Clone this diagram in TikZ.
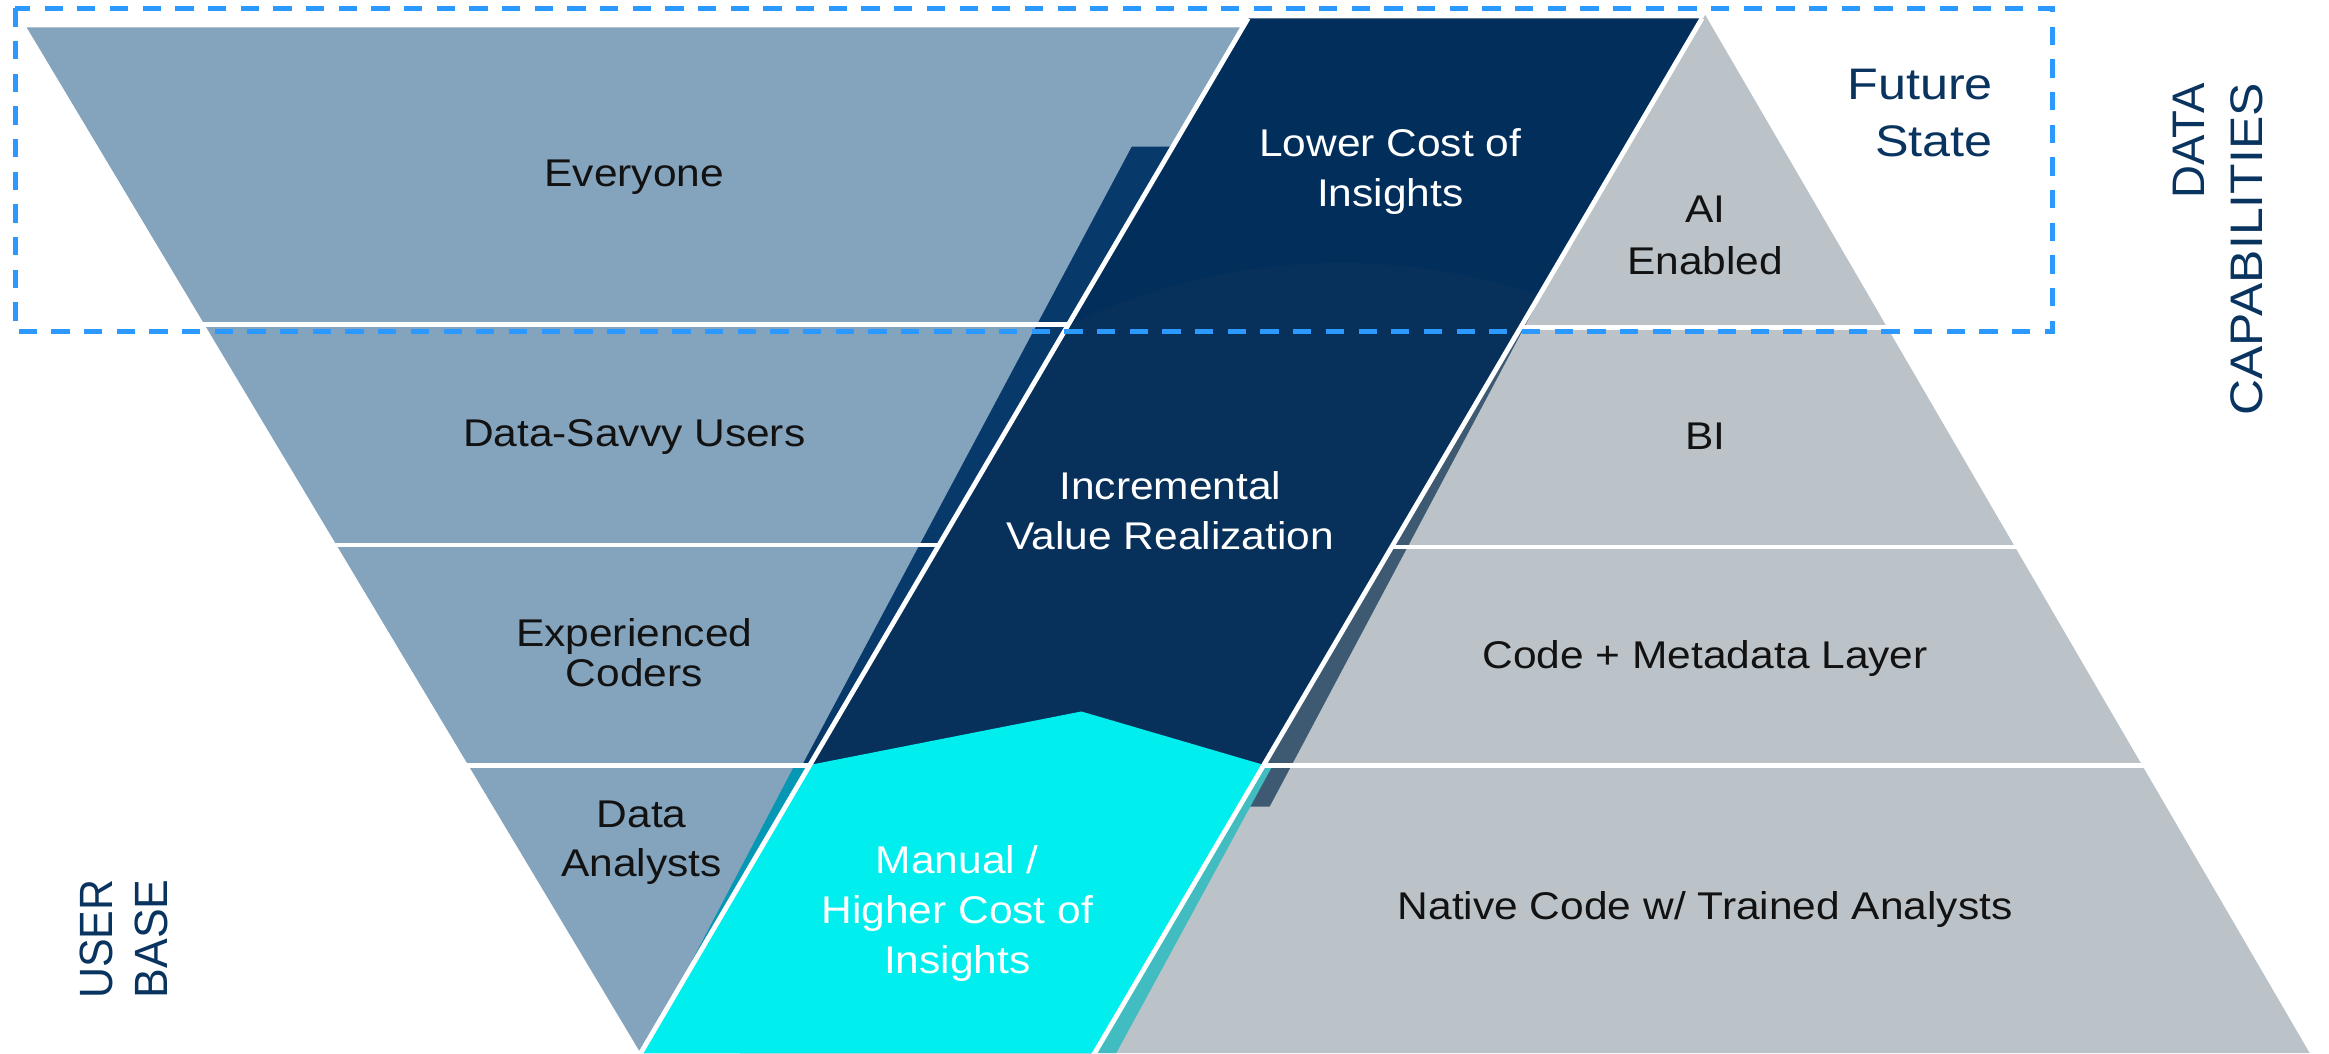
\documentclass[tikz,border=0pt]{standalone}
\usepackage{fontspec}
\setmainfont{Liberation Sans}
\usepackage{graphicx}
\definecolor{bluegray}{HTML}{84A3BD}
\definecolor{capgray}{HTML}{BBC3C8}
\definecolor{navyfill}{HTML}{012E5A}
\definecolor{navylow}{HTML}{07315A}
\definecolor{navyshadow}{HTML}{073A6B}
\definecolor{slateshadow}{HTML}{3E5A73}
\definecolor{cyanfill}{HTML}{00EEEE}
\definecolor{tealleft}{HTML}{0598B4}
\definecolor{tealright}{HTML}{41BCC1}
\definecolor{dashblue}{HTML}{2B99FF}
\definecolor{titlenavy}{HTML}{0A3460}
\newcommand{\hs}[1]{\scalebox{1.1}[1]{#1}}
\newcommand{\ws}[2]{\scalebox{#1}[1]{#2}}
\begin{document}
\begin{tikzpicture}[x=0.05cm,y=-0.05cm,
  lbl/.style={inner sep=0pt, align=center, text=black!93, font=\fontsize{37}{48}\selectfont},
  wlbl/.style={lbl, text=white},
  ttl/.style={inner sep=0pt, text=titlenavy},
  rowsep/.style={draw=white, line width=4.5pt},
  border/.style={draw=white, line width=4.6pt},
  dashbox/.style={draw=dashblue, line width=4.5pt, dash pattern=on 17.5pt off 13.8pt}]
\useasboundingbox (0,0) rectangle (1568,709);
\fill[white] (0,0) rectangle (1568,709);
% user base (inverted triangle)
\fill[bluegray] (18,18.5) -- (836.7,18.5) -- (431.3,709) -- cycle;
% data capabilities (triangle)
\fill[capgray] (1148,10) -- (1555,709) -- (741,709) -- cycle;
% shadows
\fill[navyshadow] (762,98.7) -- (789.6,98.7) -- (544.6,516) -- (539.6,516) -- cycle;
\fill[tealleft] (534,517) -- (544,517) -- (449.5,678) -- cycle;
\fill[slateshadow] (1048.7,178) -- (854.8,543) -- (834.4,543) -- cycle;
\fill[tealright] (850.9,515) -- (857,515) -- (751.5,709) -- (737,709) -- cycle;
% row separators
\draw[rowsep] (0,218.3) -- (719.4,218.3);
\draw[rowsep] (0,367) -- (632.1,367);
\draw[rowsep] (0,515.2) -- (545.1,515.2);
\draw[rowsep] (1023.7,220.5) -- (1568,220.5);
\draw[rowsep] (937,368.3) -- (1568,368.3);
\draw[rowsep] (850.6,515.5) -- (1568,515.5);
% central band
\fill[navyfill] (840.3,12.3) -- (1145.9,12.3) -- (737,709) -- (431.3,709) -- cycle;
\begin{scope}
  \clip (840.3,12.3) -- (1145.9,12.3) -- (737,709) -- (431.3,709) -- cycle;
  \fill[navylow] (903,597) circle [radius=420];
\end{scope}
\fill[cyanfill] (545.2,515) -- (728,479) -- (850.9,515) -- (737,709) -- (431.3,709) -- cycle;
\draw[border] (840.3,12.3) -- (429.6,712);
\draw[border] (1145.9,12.3) -- (735.2,712);
% future state frame
\draw[dashbox] (10.3,5.6) rectangle (1381.6,223.3);
% labels
\node[lbl, anchor=base] (everyone) at (427,125.3) {\hs{Everyone}};
\node[lbl, anchor=base] (savvy) at (427,300.3) {\hs{Data-Savvy Users}};
\node[lbl, font=\fontsize{37}{38.4}\selectfont] (coders) at (427,439.3) {\hs{Experienced}\\\hs{Coders}};
\node[lbl, font=\fontsize{37}{47}\selectfont] (analysts) at (432,567.2) {\hs{Data}\\\hs{Analysts}};
\node[wlbl] (lower) at (936,115.7) {\hs{Lower Cost of}\\\hs{Insights}};
\node[wlbl] (incr) at (788,344.1) {\hs{Incremental}\\\hs{Value Realization}};
\node[wlbl] (manual) at (644.5,614.9) {\hs{Manual /}\\\hs{Higher Cost of}\\\hs{Insights}};
\node[lbl, font=\fontsize{37}{49.4}\selectfont] (ai) at (1148,158.6) {\hs{AI}\\\hs{Enabled}};
\node[lbl, anchor=base] (bi) at (1148,302.3) {\hs{BI}};
\node[lbl, anchor=base] (code) at (1148,450.3) {\hs{Code + Metadata Layer}};
\node[lbl, anchor=base] (native) at (1148,619.3) {\hs{Native Code w/ Trained Analysts}};
\node[ttl, anchor=east, align=right, font=\fontsize{42.3}{54.3}\selectfont] (future) at (1341.8,76) {\ws{1.14}{Future}\\\ws{1.14}{State}};
\node[ttl, rotate=90, anchor=base east, font=\fontsize{43.7}{54}\selectfont] (data) at (1484,56) {\ws{1.0}{DATA}};
\node[ttl, rotate=90, anchor=base east, font=\fontsize{43.7}{54}\selectfont] (capab) at (1523,56) {\ws{1.094}{CAPABILITIES}};
\node[ttl, rotate=90, anchor=base east, font=\fontsize{44.7}{54}\selectfont] (user) at (76,592) {\ws{0.92}{USER}};
\node[ttl, rotate=90, anchor=base east, font=\fontsize{44.7}{54}\selectfont] (base) at (113,592) {\ws{0.955}{BASE}};
\end{tikzpicture}
\end{document}
